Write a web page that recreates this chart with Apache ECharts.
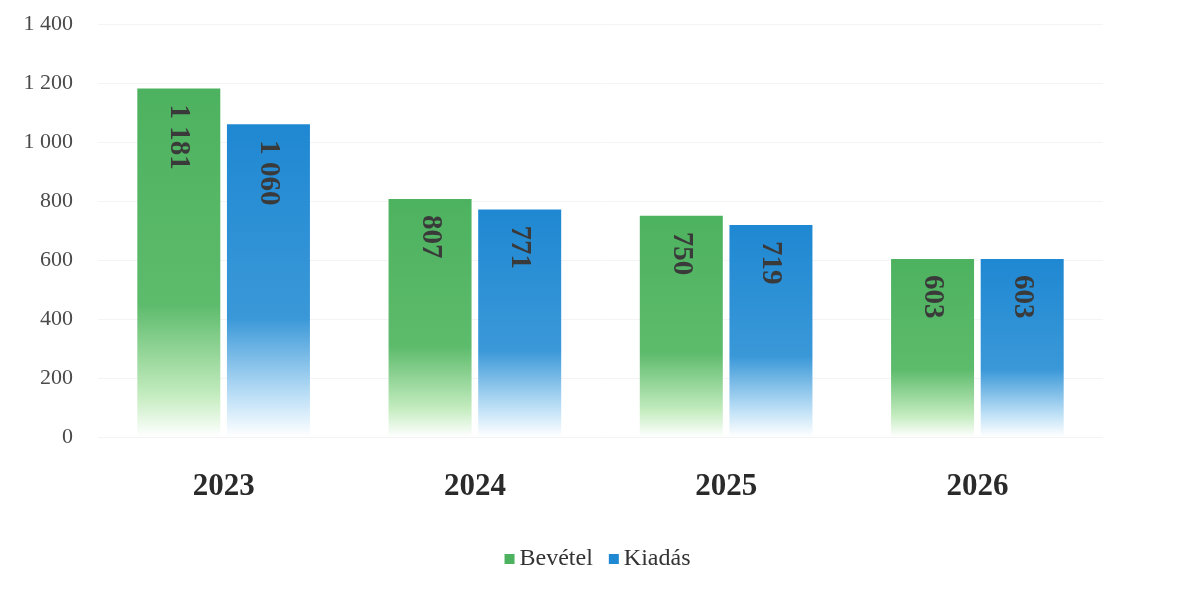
<!DOCTYPE html>
<html><head><meta charset="utf-8">
<script src="https://cdn.jsdelivr.net/npm/echarts@6/dist/echarts.min.js"></script>
<style>html,body{margin:0;padding:0;background:#fff}#c{width:1195px;height:596px}</style>
</head><body><div id="c"></div>
<script>
const categories = ['2023', '2024', '2025', '2026'];
const bevetel = [1181, 807, 750, 603];
const kiadas = [1060, 771, 719, 603];
const seriesNames = ['Bevétel', 'Kiadás'];

function fmt(v) {
  return String(v).replace(/\B(?=(\d{3})+(?!\d))/g, ' ');
}
function grad(top, mid, light) {
  return new echarts.graphic.LinearGradient(0, 0, 0, 1, [
    {offset: 0, color: top},
    {offset: 0.62, color: mid},
    {offset: 0.88, color: light},
    {offset: 1, color: '#ffffff'}
  ]);
}
const serif = '"Liberation Serif", "DejaVu Serif", serif';
const chart = echarts.init(document.getElementById('c'));
const labelCfg = {
  show: true,
  position: 'insideTop',
  rotate: -90,
  align: 'left',
  verticalAlign: 'middle',
  distance: 16,
  fontFamily: serif,
  fontSize: 29,
  fontWeight: 'bold',
  color: '#3a3a3a',
  formatter: p => fmt(p.value)
};
chart.setOption({
  animation: false,
  grid: {left: 98, right: 92, top: 24, bottom: 159},
  legend: {
    bottom: 20, left: 'center',
    itemWidth: 10, itemHeight: 10, itemGap: 16,
    icon: 'rect',
    textStyle: {fontFamily: serif, fontSize: 24, color: '#333'},
    data: [
      {name: seriesNames[0], itemStyle: {color: '#4db25f'}},
      {name: seriesNames[1], itemStyle: {color: '#1f88d2'}}
    ]
  },
  xAxis: {
    type: 'category', data: categories,
    axisLine: {show: false}, axisTick: {show: false},
    axisLabel: {fontFamily: serif, fontSize: 31, fontWeight: 'bold', color: '#2a2a2a', margin: 34}
  },
  yAxis: {
    type: 'value', min: 0, max: 1400, interval: 200,
    axisLine: {show: false}, axisTick: {show: false},
    splitLine: {lineStyle: {color: '#f4f4f4', width: 1}},
    axisLabel: {fontFamily: serif, fontSize: 22, color: '#4a4a4a', margin: 25, formatter: v => fmt(v)}
  },
  series: [
    {name: seriesNames[0], type: 'bar', data: bevetel, barWidth: 83, barGap: '8%',
     itemStyle: {color: grad('#4db25f', '#5dbb6c', '#c4ecbf')}, label: labelCfg},
    {name: seriesNames[1], type: 'bar', data: kiadas, barWidth: 83,
     itemStyle: {color: grad('#1f88d2', '#3a98d8', '#c2e2f7')}, label: labelCfg}
  ]
});
</script></body></html>
